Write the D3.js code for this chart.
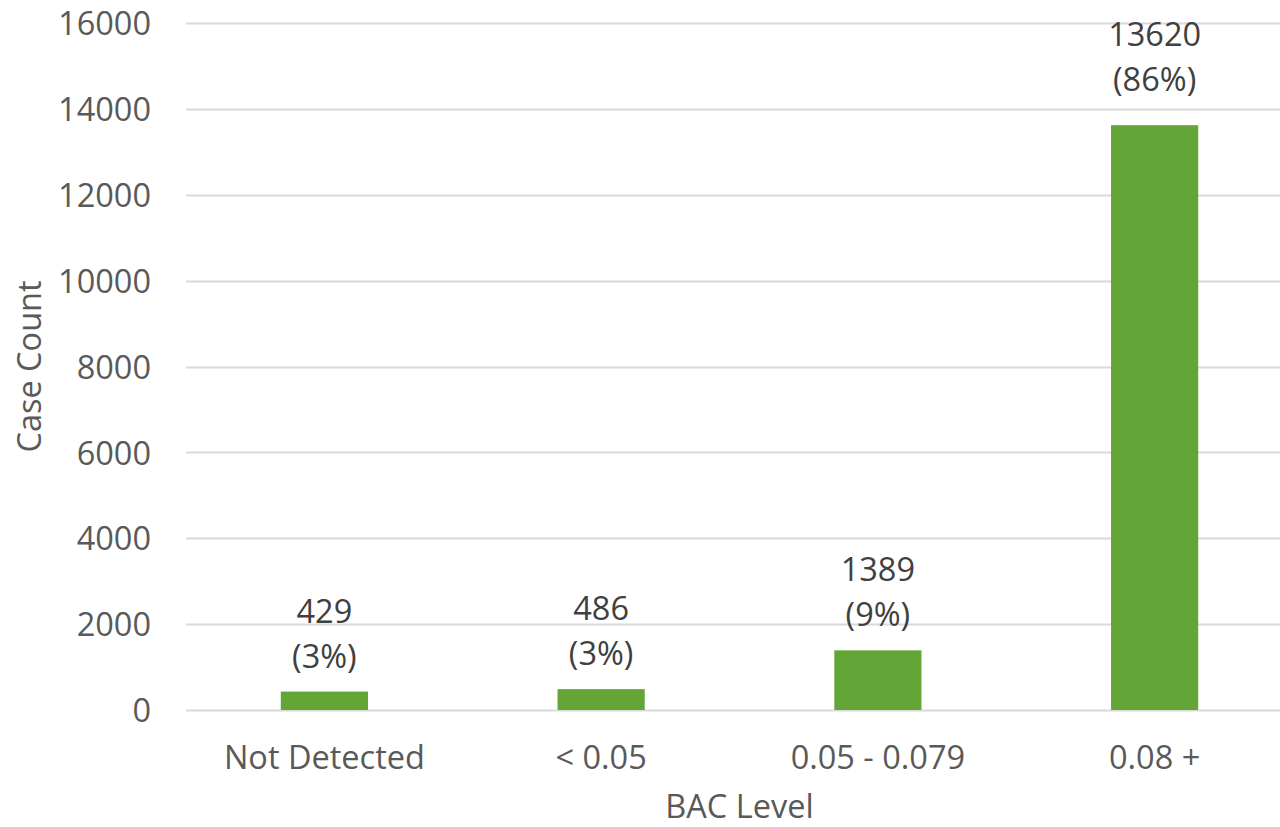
<!DOCTYPE html>
<html>
<head>
<meta charset="utf-8">
<script src="https://cdn.jsdelivr.net/npm/d3@7"></script>
<style>
  html, body { margin: 0; padding: 0; background: #fff; }
  svg { display: block; font-family: "Open Sans", "Noto Sans", sans-serif; }
</style>
</head>
<body>
<svg id="chart" width="1280" height="827"></svg>
<script>
const categories = ["Not Detected", "< 0.05", "0.05 - 0.079", "0.08 +"];
const counts = [429, 486, 1389, 13620];
const percents = ["3%", "3%", "9%", "86%"];
const yTicks = [0, 2000, 4000, 6000, 8000, 10000, 12000, 14000, 16000];

const svg = d3.select("#chart");
const margin = { left: 186, right: -13, top: 23, bottom: 117 };
const W = 1280, H = 827;
const FS = 32.5;
const x = d3.scaleBand().domain(categories).range([margin.left, W - margin.right]).paddingInner(0).paddingOuter(0);
const y = d3.scaleLinear().domain([0, 16000]).range([H - margin.bottom, margin.top]);

// gridlines
svg.append("g").selectAll("line").data(yTicks).join("line")
  .attr("x1", margin.left).attr("x2", W)
  .attr("y1", d => Math.round(y(d)) + 0.5).attr("y2", d => Math.round(y(d)) + 0.5)
  .attr("stroke", "#d9d9d9").attr("stroke-width", 2);

// y axis labels
const yAxis = d3.axisLeft(y).tickValues(yTicks).tickSize(0).tickPadding(35).tickFormat(d3.format("d"));
const ya = svg.append("g").attr("transform", `translate(${margin.left},0)`).call(yAxis);
ya.select(".domain").remove();
ya.selectAll("text").attr("font-size", FS).attr("fill", "#595959").attr("font-family", "Open Sans").attr("dy", "0.36em");

// bars
const barW = x.bandwidth() * 0.315;
svg.append("g").selectAll("rect").data(counts).join("rect")
  .attr("x", (d, i) => x(categories[i]) + x.bandwidth() / 2 - barW / 2)
  .attr("width", barW)
  .attr("y", d => y(d))
  .attr("height", d => y(0) - y(d))
  .attr("fill", "#63a537");

// data labels
const lab = svg.append("g").attr("font-size", FS).attr("fill", "#404040").attr("text-anchor", "middle");
counts.forEach((d, i) => {
  const cx = x(categories[i]) + x.bandwidth() / 2;
  const base2 = y(d) - (d > 10000 ? 34 : 24);
  lab.append("text").attr("x", cx).attr("y", base2 - 45).text(d);
  lab.append("text").attr("x", cx).attr("y", base2).text("(" + percents[i] + ")");
});

// x axis labels
const xAxis = d3.axisBottom(x).tickSize(0).tickPadding(0);
const xa = svg.append("g").attr("transform", `translate(0,${y(0)})`).call(xAxis);
xa.select(".domain").remove();
xa.selectAll("text").attr("font-size", FS).attr("fill", "#595959").attr("font-family", "Open Sans")
  .attr("dy", 0).attr("y", 59);

// axis titles
svg.append("text").attr("x", (margin.left + W - margin.right) / 2).attr("y", 818)
  .attr("text-anchor", "middle").attr("font-size", FS).attr("fill", "#595959").text("BAC Level");
svg.append("text").attr("transform", `translate(41,${(y(0) + y(16000)) / 2}) rotate(-90)`)
  .attr("text-anchor", "middle").attr("font-size", FS).attr("fill", "#595959").text("Case Count");
</script>
</body>
</html>
